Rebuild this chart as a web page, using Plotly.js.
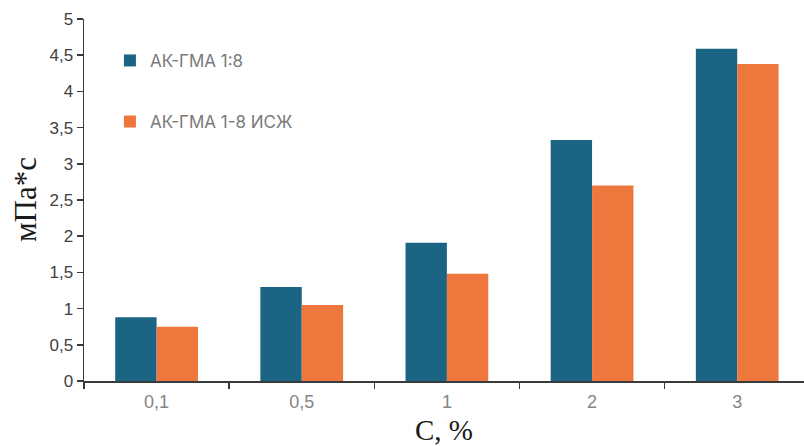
<!DOCTYPE html>
<html>
<head>
<meta charset="utf-8">
<script src="https://cdn.plot.ly/plotly-3.0.1.min.js"></script>
<style>html,body{margin:0;padding:0;background:#fff;}#chart{width:804px;height:446px;}</style>
</head>
<body>
<div id="chart"></div>
<script>
const categories = ["0,1", "0,5", "1", "2", "3"];
const seriesNames = ["АК-ГМА 1:8", "АК-ГМА 1-8 ИСЖ"];
const series1 = [0.88, 1.30, 1.91, 3.33, 4.59];
const series2 = [0.75, 1.05, 1.48, 2.70, 4.38];
const yTickVals = [0, 0.5, 1, 1.5, 2, 2.5, 3, 3.5, 4, 4.5, 5];
const yTickText = ["0", "0,5", "1", "1,5", "2", "2,5", "3", "3,5", "4", "4,5", "5"];
const xTitle = "С, %";
const yTitle = "мПа*с";

const colors = ["#1B6483", "#EE773D"];

const traces = [
  {type: "bar", x: categories, y: series1, name: seriesNames[0], legendgroup: "a",
   marker: {color: colors[0], line: {width: 0}}, hoverinfo: "skip"},
  {type: "bar", x: categories, y: series2, name: seriesNames[1], legendgroup: "b",
   marker: {color: colors[1], line: {width: 0}}, hoverinfo: "skip"}
];

const xr = [-0.5, 4.46];
const layout = {
  width: 804, height: 446,
  margin: {l: 84, r: 0, t: 19, b: 65},
  paper_bgcolor: "#ffffff", plot_bgcolor: "#ffffff",
  barmode: "group", bargap: 0.43, bargroupgap: 0,
  showlegend: true,
  legend: {x: 0.036, y: 0.934, xanchor: "left", yanchor: "top", traceorder: "grouped",
           tracegroupgap: 36, bgcolor: "rgba(0,0,0,0)",
           font: {family: "Inter, 'Open Sans', sans-serif", size: 17, color: "#7a7a7a"}},
  xaxis: {type: "category", categoryorder: "array", categoryarray: categories, range: xr,
          showline: true, linecolor: "#3a3a3a", linewidth: 1.5,
          ticks: "outside", tickson: "boundaries", ticklen: 6, tickcolor: "#3a3a3a", tickwidth: 1.5,
          ticklabelstandoff: 4,
          showgrid: false, zeroline: false,
          tickfont: {family: "'Liberation Sans', Arial, sans-serif", size: 18, color: "#858585"},
          title: {text: xTitle, standoff: 9, font: {family: "'Liberation Serif', 'Times New Roman', serif", size: 29, color: "#1a1a1a"}}},
  xaxis2: {type: "category", categoryorder: "array", categoryarray: categories, range: xr,
           overlaying: "x", anchor: "y", side: "bottom", showline: false, showgrid: false, zeroline: false,
           ticks: "outside", ticklen: 4, tickcolor: "#3a3a3a", tickwidth: 1.5, showticklabels: false},
  yaxis: {range: [0, 5], tickvals: yTickVals, ticktext: yTickText,
          showline: true, linecolor: "#3a3a3a", linewidth: 1.5,
          ticks: "outside", ticklen: 6, tickcolor: "#3a3a3a", tickwidth: 1.5,
          showgrid: false, zeroline: false,
          tickfont: {family: "'Liberation Sans', Arial, sans-serif", size: 17, color: "#404040"}},
  annotations: [{text: yTitle, textangle: -90, xref: "paper", yref: "paper", x: 0, y: 0.5,
                 xanchor: "center", yanchor: "middle", xshift: -59, showarrow: false,
                 font: {family: "'Liberation Serif', 'Times New Roman', serif", size: 31, color: "#1a1a1a"}}]
};

Plotly.newPlot("chart", traces, layout, {staticPlot: true, displayModeBar: false});
</script>
</body>
</html>
